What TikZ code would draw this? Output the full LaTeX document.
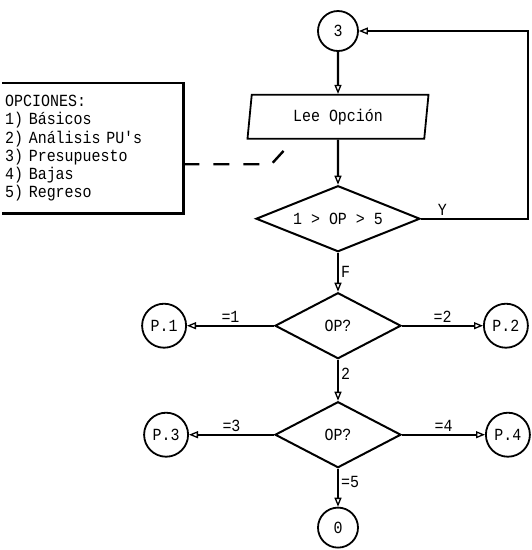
\documentclass[tikz,border=0pt]{standalone}
\usepackage{fontspec}
\setmonofont[FakeStretch=0.88]{Liberation Mono}
\usetikzlibrary{arrows.meta,positioning,shapes.geometric}

\begin{document}
\begin{tikzpicture}[x=1pt,y=-1pt,font=\ttfamily\fontsize{17}{18.2}\selectfont,
      node distance=0,
      line/.style={line width=2.4pt},
      flow/.style={line width=2.4pt,-{Triangle[open,length=9pt,width=7pt,line width=1.3pt]}},
      conn/.style={circle,draw,line width=1.8pt,minimum size=40pt,inner sep=0},
      pconn/.style={conn,minimum size=44pt},
      io/.style={trapezium,trapezium left angle=75,trapezium right angle=105,
        trapezium stretches body,draw,line width=1.8pt,
        minimum width=181pt,minimum height=44pt,inner sep=0},
      dec/.style={diamond,draw,line width=2pt,inner sep=0,aspect=2.5,
        minimum width=126pt,minimum height=66pt},
      lbl/.style={inner sep=2pt}]
  \useasboundingbox (0,0) rectangle (532,550);
  % main column
  \node[conn] (c3) at (338,31) {3};
  \node[io,below=42pt of c3] (lee) {Lee Opción};
  \node[dec,minimum width=164pt,below=45pt of lee] (d1) {1 > OP > 5};
  \node[dec,below=39pt of d1] (d2) {OP?};
  \node[dec,below=41pt of d2] (d3) {OP?};
  \node[conn,below=38pt of d3] (c0) {0};
  % exits
  \node[pconn,left=87pt of d2] (p1) {P.1};
  \node[pconn,right=81pt of d2] (p2) {P.2};
  \node[pconn,left=85pt of d3] (p3) {P.3};
  \node[pconn,right=83pt of d3] (p4) {P.4};
  % options note
  \node[text width=175pt,inner xsep=3pt,inner ysep=0,minimum height=130pt,
    align=left,anchor=north west] (opts) at (2,83)
    {OPCIONES:\\1) Básicos\\2) Análisis PU's\\3) Presupuesto\\4) Bajas\\5) Regreso};
  \draw[line] (opts.north west) -| (opts.south east) -- (opts.south west);
  \coordinate (notetip) at ([shift={(40pt,-8pt)}]lee.bottom left corner);
  \draw[line,dash pattern=on 16pt off 14pt] ([yshift=-16pt]opts.east) -- ++(88pt,0) -- (notetip);
  % connectors
  \draw[flow] (c3) -- (lee);
  \draw[flow] (lee) -- (d1);
  \draw[flow] (d1.east) -- node[lbl,above,pos=.2] {Y} ++(107pt,0) |- (c3.east);
  \draw[flow] (d1) -- node[lbl,right] {F} (d2);
  \draw[flow] (d2) -- node[lbl,above] {=1} (p1);
  \draw[flow] (d2) -- node[lbl,above] {=2} (p2);
  \draw[flow] (d2) -- node[lbl,right,pos=.35] {2} (d3);
  \draw[flow] (d3) -- node[lbl,above] {=3} (p3);
  \draw[flow] (d3) -- node[lbl,above] {=4} (p4);
  \draw[flow] (d3) -- node[lbl,right,pos=.35] {=5} (c0);
\end{tikzpicture}
\end{document}
